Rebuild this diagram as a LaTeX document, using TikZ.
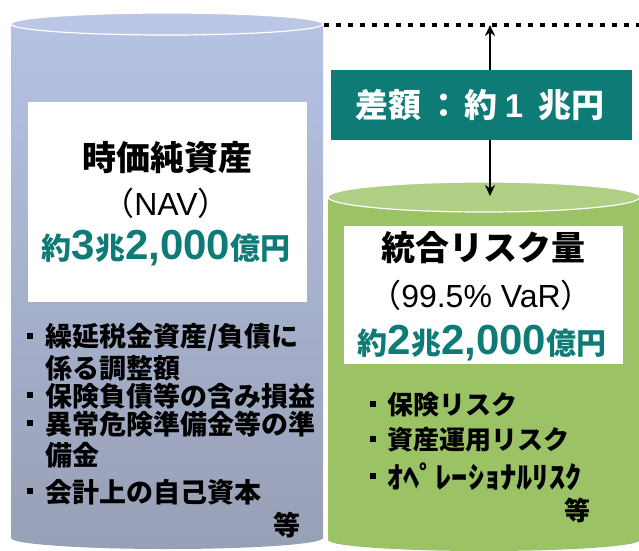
\documentclass[tikz,border=0pt]{standalone}
\usepackage{fontspec}
\setmainfont{Noto Sans CJK JP}
\newfontfamily\lat{Liberation Sans}
\usetikzlibrary{arrows.meta}
\definecolor{tealc}{HTML}{0E7B76}
\definecolor{blueT}{HTML}{B4C2E3}
\definecolor{blueB}{HTML}{98A0B6}
\definecolor{blueTop}{HTML}{BBC7E5}
\definecolor{greenC}{HTML}{9BC265}
\definecolor{greenTop}{HTML}{AFCF85}
\tikzset{
  bul/.style={fill=black, minimum size=6pt, inner sep=0pt},
  bigt/.style={font=\fontsize{34}{38}\selectfont\bfseries},
  subt/.style={font=\fontsize{32}{36}\selectfont},
  amt/.style={text=tealc, font=\fontsize{30}{34}\selectfont\bfseries},
  ltxt/.style={anchor=west, font=\fontsize{27}{30}\selectfont\bfseries},
  rtxt/.style={anchor=west, font=\fontsize{26}{30}\selectfont\bfseries},
}
\newcommand{\bignum}[1]{{\lat\fontsize{42}{44}\selectfont #1}}
\begin{document}
\begin{tikzpicture}[x=1pt,y=1pt, every node/.style={inner sep=0pt, outer sep=0pt}]
\useasboundingbox (0,0) rectangle (639,-550);
\clip (0,0) rectangle (639,-550);
% left cylinder
\shade[top color=blueT, bottom color=blueB] (11,-24) -- (11,-538) arc[start angle=180,end angle=360,x radius=156,y radius=11] -- (323,-24) -- cycle;
\filldraw[fill=blueTop, draw=white, line width=1.2pt] (167,-24) ellipse [x radius=156, y radius=11];
% right cylinder
\fill[greenC] (328,-197) -- (328,-540) arc[start angle=180,end angle=360,x radius=156,y radius=11] -- (640,-197) -- cycle;
\filldraw[fill=greenTop, draw=white, line width=1.2pt] (484,-197) ellipse [x radius=156, y radius=15];
% dotted line and arrow
\coordinate (d0) at (324,-25);
\coordinate (d1) at (640,-25);
\coordinate (a0) at (490,-25);
\coordinate (a1) at (490,-196);
\draw[line width=4.5pt, dash pattern=on 4.5pt off 7.5pt] (d0) -- (d1);
\draw[line width=2.2pt, {Stealth[length=11pt,width=10pt]}-{Stealth[length=11pt,width=10pt]}] (a0) -- (a1);
% difference box
\node[fill=tealc, minimum width=301pt, minimum height=70pt] (diff) at (481.5,-105) {};
\node[text=white, font=\fontsize{33}{36}\selectfont\bfseries] (difft) at (480,-105) {差額\hspace{6pt}：\hspace{4pt}約\hspace{7pt}{\lat 1}\hspace{15pt}兆円};
% left white box
\node[fill=white, minimum width=279pt, minimum height=200pt, anchor=north west] (wl) at (28,-102) {};
\node[bigt] (l1) at (167,-158) {時価純資産};
\node[subt] (l2) at (166,-203) {（{\lat NAV}）};
\node[amt] (l3) at (166,-248) {約\bignum{3}兆\bignum{2,000}億円};
% left bullets
\node[bul] (lb1) at (30,-336) {};
\node[ltxt] (lt1) at (45,-337) {繰延税金資産/負債に};
\node[ltxt] (lt2) at (45,-368) {係る調整額};
\node[bul] (lb3) at (30,-395) {};
\node[ltxt] (lt3) at (45,-396) {保険負債等の含み損益};
\node[bul] (lb4) at (30,-423) {};
\node[ltxt] (lt4) at (45,-424) {異常危険準備金等の準};
\node[ltxt] (lt5) at (45,-455) {備金};
\node[bul] (lb6) at (30,-491) {};
\node[ltxt] (lt6) at (45,-492) {会計上の自己資本};
\node[font=\fontsize{27}{30}\selectfont\bfseries] (lt7) at (287,-525) {等};
% right white box
\node[fill=white, minimum width=279pt, minimum height=138pt, anchor=north west] (wr) at (344,-226) {};
\node[bigt] (r1) at (483,-248) {統合リスク量};
\node[subt] (r2) at (481,-295) {（{\lat 99.5\% VaR}）};
\node[amt] (r3) at (482,-343) {約\bignum{2}兆\bignum{2,000}億円};
% right bullets
\node[bul] (rb1) at (373,-404) {};
\node[rtxt] (rt1) at (387,-405) {保険リスク};
\node[bul] (rb2) at (373,-439) {};
\node[rtxt] (rt2) at (387,-440) {資産運用リスク};
\node[bul] (rb3) at (373,-476) {};
\node[rtxt] (rt3) at (387,-477) {\scalebox{1.08}[1]{\fontsize{30}{32}\selectfont ｵﾍﾟﾚｰｼｮﾅﾙﾘｽｸ}};
\node[font=\fontsize{26}{30}\selectfont\bfseries] (rt4) at (577,-510) {等};
\end{tikzpicture}
\end{document}
